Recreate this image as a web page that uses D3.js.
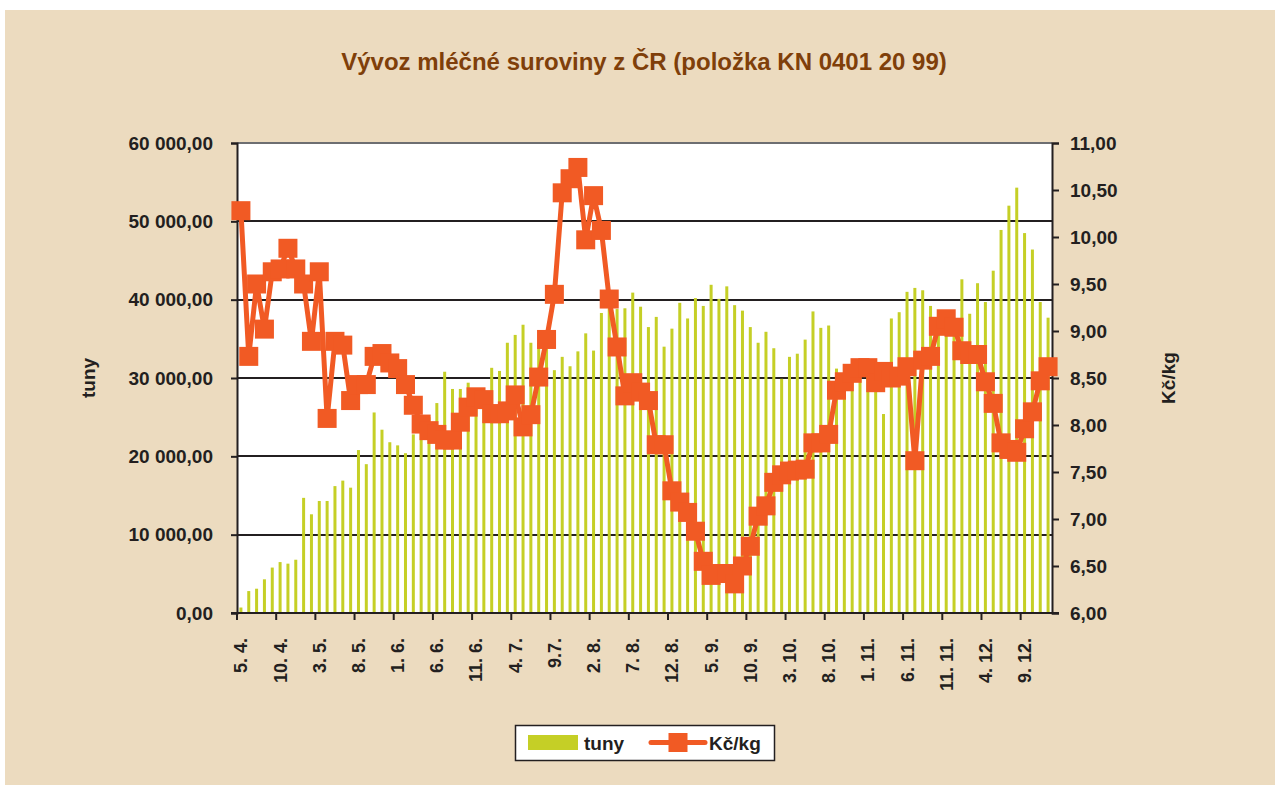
<!DOCTYPE html>
<html>
<head>
<meta charset="utf-8">
<script src="https://cdn.jsdelivr.net/npm/d3@7"></script>
<style>
  body { margin: 0; background: #fff; }
  text { font-family: "Liberation Sans", Arial, sans-serif; font-weight: bold; fill: #231f20; }
</style>
</head>
<body>
<div id="chart"></div>
<script>
// week labels shown on the axis (every 5th week)
const tickLabels = ["5. 4.", "10. 4.", "3. 5.", "8. 5.", "1. 6.", "6. 6.", "11. 6.", "4. 7.", "9.7.", "2. 8.",
  "7. 8.", "12. 8.", "5. 9.", "10. 9.", "3. 10.", "8. 10.", "1. 11.", "6. 11.", "11. 11.", "4. 12.", "9. 12."];

// exported volume, tonnes
const tuny = [700, 2800, 3100, 4300, 5800, 6500, 6300, 6800, 14700, 12600,
  14300, 14300, 16200, 16900, 16000, 20800, 19000, 25600, 23400, 21800,
  21400, 20400, 22800, 23500, 25000, 26800, 30800, 28600, 28600, 29400,
  28500, 28000, 31300, 30900, 34500, 35500, 36800, 34500, 34500, 34000,
  31000, 32700, 31500, 33400, 35700, 33500, 38300, 38900, 38800, 38900,
  40900, 39100, 36500, 37800, 34000, 36300, 39600, 37600, 40200, 39200,
  41900, 40100, 41700, 39300, 38600, 36500, 34500, 35900, 33800, 29900,
  32700, 33100, 34900, 38500, 36400, 36700, 31200, 30500, 31000, 31500,
  31000, 30000, 25400, 37600, 38400, 41000, 41500, 41200, 39200, 37000,
  36500, 37500, 42600, 38200, 42100, 39700, 43700, 48900, 52000, 54300,
  48500, 46400, 39700, 37700];

// price, CZK per kg
const kcKg = [10.28, 8.73, 9.50, 9.02, 9.63, 9.66, 9.88, 9.66, 9.50, 8.89,
  9.63, 8.07, 8.89, 8.85, 8.26, 8.43, 8.43, 8.73, 8.76, 8.66,
  8.60, 8.43, 8.21, 8.01, 7.94, 7.90, 7.84, 7.84, 8.03, 8.19,
  8.30, 8.27, 8.12, 8.12, 8.15, 8.32, 7.98, 8.11, 8.51, 8.91,
  9.39, 10.47, 10.62, 10.74, 9.97, 10.44, 10.07, 9.34, 8.83, 8.31,
  8.45, 8.35, 8.26, 7.79, 7.79, 7.30, 7.18, 7.07, 6.87, 6.55,
  6.40, 6.42, 6.42, 6.31, 6.50, 6.71, 7.03, 7.14, 7.39, 7.47,
  7.51, 7.52, 7.53, 7.81, 7.81, 7.90, 8.37, 8.46, 8.55, 8.61,
  8.61, 8.45, 8.57, 8.50, 8.52, 8.62, 7.62, 8.69, 8.73, 9.05,
  9.13, 9.04, 8.79, 8.75, 8.75, 8.46, 8.23, 7.81, 7.74, 7.71,
  7.96, 8.14, 8.47, 8.62];

const width = 1280;
const height = 793;
const plot = { left: 237, right: 1052, top: 143, bottom: 613 };
const ink = "#231f20";
const barColor = "#c5cf26";
const lineColor = "#f15a24";

const cz = d3.formatLocale({ decimal: ",", thousands: " ", grouping: [3], currency: ["", ""] });

const svg = d3.select("#chart").append("svg")
  .attr("width", width)
  .attr("height", height);

svg.append("rect").attr("x", 5).attr("y", 10).attr("width", 1270).attr("height", 775).attr("fill", "#ecdbbf");

svg.append("text")
  .attr("x", 644).attr("y", 70)
  .attr("text-anchor", "middle")
  .style("font-size", "24px")
  .style("fill", "#7f3f0a")
  .text("Vývoz mléčné suroviny z ČR (položka KN 0401 20 99)");

const x = d3.scaleBand()
  .domain(d3.range(tuny.length))
  .range([plot.left, plot.right]);

const yL = d3.scaleLinear().domain([0, 60000]).range([plot.bottom, plot.top]);
const yR = d3.scaleLinear().domain([6, 11]).range([plot.bottom, plot.top]);

svg.append("rect")
  .attr("x", plot.left).attr("y", plot.top)
  .attr("width", plot.right - plot.left).attr("height", plot.bottom - plot.top)
  .attr("fill", "#fff");

// gridlines
svg.append("g").selectAll("line")
  .data(yL.ticks(6).filter(d => d > 0))
  .join("line")
  .attr("x1", plot.left).attr("x2", plot.right)
  .attr("y1", d => Math.round(yL(d))).attr("y2", d => Math.round(yL(d)))
  .attr("stroke", d => d === 60000 ? "#6d6e71" : ink)
  .attr("stroke-width", 2);

// bars
const bw = 3;
svg.append("g").selectAll("rect")
  .data(tuny)
  .join("rect")
  .attr("x", (d, i) => x(i) + x.bandwidth() / 2 - bw / 2)
  .attr("y", d => yL(d))
  .attr("width", bw)
  .attr("height", d => plot.bottom - yL(d))
  .attr("fill", barColor);

// left axis
const axL = svg.append("g")
  .attr("transform", `translate(${plot.left},0)`)
  .call(d3.axisLeft(yL).tickValues(d3.range(0, 60001, 10000)).tickSize(6).tickPadding(18)
    .tickFormat(cz.format(",.2f")));
axL.select(".domain").attr("stroke", ink).attr("stroke-width", 2);
axL.selectAll(".tick line").attr("stroke", ink).attr("stroke-width", 2);
axL.selectAll(".tick text").style("font-size", "19px").attr("fill", ink);

// right axis
const axR = svg.append("g")
  .attr("transform", `translate(${plot.right},0)`)
  .call(d3.axisRight(yR).tickValues(d3.range(6, 11.01, 0.5)).tickSize(7).tickPadding(11)
    .tickFormat(cz.format(".2f")));
axR.select(".domain").attr("stroke", ink).attr("stroke-width", 2);
axR.selectAll(".tick line").attr("stroke", ink).attr("stroke-width", 2);
axR.selectAll(".tick text").style("font-size", "19px").attr("fill", ink);

// bottom axis line and ticks at category boundaries
svg.append("line")
  .attr("x1", plot.left - 6).attr("x2", plot.right + 7)
  .attr("y1", plot.bottom).attr("y2", plot.bottom)
  .attr("stroke", ink).attr("stroke-width", 2);

svg.append("g").selectAll("line")
  .data(tickLabels)
  .join("line")
  .attr("x1", (d, i) => x(i * 5)).attr("x2", (d, i) => x(i * 5))
  .attr("y1", plot.bottom).attr("y2", plot.bottom + 7)
  .attr("stroke", ink).attr("stroke-width", 2);

svg.append("g").selectAll("text")
  .data(tickLabels)
  .join("text")
  .attr("transform", (d, i) => `translate(${x(i * 5) + x.bandwidth() / 2},638) rotate(-90)`)
  .attr("text-anchor", "end")
  .attr("dy", "0.36em")
  .style("font-size", "18px")
  .text(d => d);

// price line
const line = d3.line()
  .x((d, i) => x(i) + x.bandwidth() / 2)
  .y(d => yR(d));

svg.append("path")
  .datum(kcKg)
  .attr("fill", "none")
  .attr("stroke", lineColor)
  .attr("stroke-width", 5)
  .attr("stroke-linejoin", "round")
  .attr("d", line);

const ms = 19;
svg.append("g").selectAll("rect")
  .data(kcKg)
  .join("rect")
  .attr("x", (d, i) => x(i) + x.bandwidth() / 2 - ms / 2)
  .attr("y", d => yR(d) - ms / 2)
  .attr("width", ms).attr("height", ms)
  .attr("fill", lineColor);

// axis titles
svg.append("text")
  .attr("transform", "translate(88,378) rotate(-90)")
  .attr("text-anchor", "middle").attr("dy", "0.35em")
  .style("font-size", "19px")
  .text("tuny");

svg.append("text")
  .attr("transform", "translate(1168,378) rotate(-90)")
  .attr("text-anchor", "middle").attr("dy", "0.35em")
  .style("font-size", "19px")
  .text("Kč/kg");

// legend
const lg = svg.append("g");
lg.append("rect")
  .attr("x", 515.5).attr("y", 725.5).attr("width", 259).attr("height", 35)
  .attr("fill", "#fff").attr("stroke", ink).attr("stroke-width", 1.5);
lg.append("rect")
  .attr("x", 528).attr("y", 735).attr("width", 50).attr("height", 15)
  .attr("fill", barColor);
lg.append("text").attr("x", 584).attr("y", 750).style("font-size", "19px").text("tuny");
lg.append("line")
  .attr("x1", 651).attr("x2", 705).attr("y1", 742.5).attr("y2", 742.5)
  .attr("stroke", lineColor).attr("stroke-width", 5).attr("stroke-linecap", "round");
lg.append("rect")
  .attr("x", 678 - ms / 2).attr("y", 742.5 - ms / 2).attr("width", ms).attr("height", ms)
  .attr("fill", lineColor);
lg.append("text").attr("x", 709).attr("y", 750).style("font-size", "19px").text("Kč/kg");
</script>
</body>
</html>
